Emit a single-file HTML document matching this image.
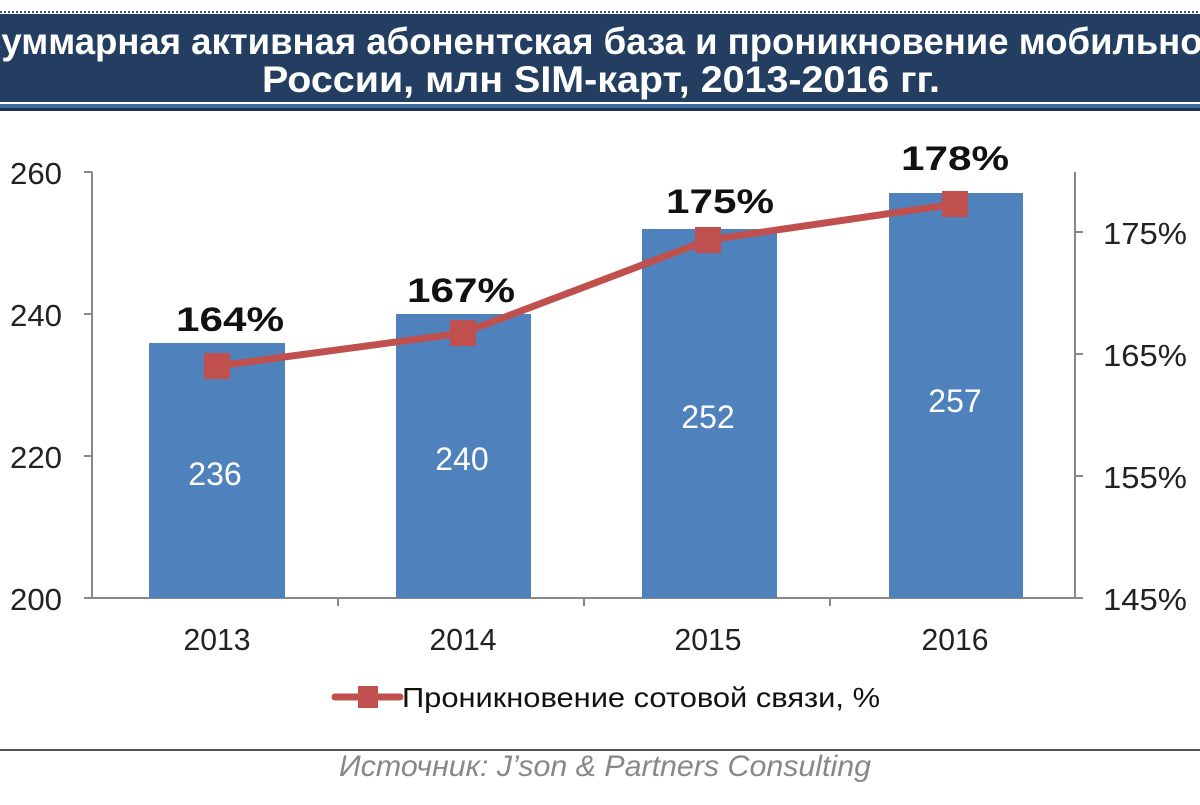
<!DOCTYPE html>
<html><head><meta charset="utf-8"><style>
body{margin:0;width:1200px;height:800px;background:#fff;overflow:hidden;font-family:"Liberation Sans","DejaVu Sans",sans-serif}
</style></head><body>
<svg width="1200" height="800" xmlns="http://www.w3.org/2000/svg" font-family="Liberation Sans, DejaVu Sans, sans-serif">
<line x1="0" y1="12" x2="1200" y2="12" stroke="#3a5a80" stroke-width="2" stroke-dasharray="2,2"/>
<rect x="0" y="14" width="1200" height="88" fill="#233e61"/>
<rect x="0" y="104" width="1200" height="4" fill="#3d6a9e"/>
<rect x="0" y="108" width="1200" height="3" fill="#1c3352"/>
<text x="600" y="54" fill="#fff" font-size="37" font-weight="bold" text-anchor="middle" textLength="1250" lengthAdjust="spacingAndGlyphs">Суммарная активная абонентская база и проникновение мобильной</text>
<text x="601" y="92" fill="#fff" font-size="37" font-weight="bold" text-anchor="middle" textLength="678" lengthAdjust="spacingAndGlyphs">России, млн SIM-карт, 2013-2016 гг.</text>
<g stroke="#888" stroke-width="2">
<line x1="92" y1="172" x2="92" y2="598"/>
<line x1="92" y1="598" x2="1075" y2="598"/>
<line x1="1075" y1="172" x2="1075" y2="598"/>
<line x1="84" y1="172" x2="92" y2="172"/><line x1="84" y1="314" x2="92" y2="314"/><line x1="84" y1="456" x2="92" y2="456"/><line x1="84" y1="598" x2="92" y2="598"/>
<line x1="1075" y1="232" x2="1083" y2="232"/><line x1="1075" y1="354" x2="1083" y2="354"/><line x1="1075" y1="476" x2="1083" y2="476"/><line x1="1075" y1="598" x2="1083" y2="598"/>
<line x1="338" y1="598" x2="338" y2="606"/><line x1="584" y1="598" x2="584" y2="606"/><line x1="830" y1="598" x2="830" y2="606"/>
</g>
<g fill="#222" font-size="31">
<text x="62" y="184" text-anchor="end" textLength="52" lengthAdjust="spacingAndGlyphs">260</text><text x="62" y="326" text-anchor="end" textLength="52" lengthAdjust="spacingAndGlyphs">240</text><text x="62" y="468" text-anchor="end" textLength="52" lengthAdjust="spacingAndGlyphs">220</text><text x="62" y="610" text-anchor="end" textLength="52" lengthAdjust="spacingAndGlyphs">200</text>
<text x="1103" y="244" textLength="84" lengthAdjust="spacingAndGlyphs">175%</text><text x="1103" y="366" textLength="84" lengthAdjust="spacingAndGlyphs">165%</text><text x="1103" y="488" textLength="84" lengthAdjust="spacingAndGlyphs">155%</text><text x="1103" y="610" textLength="84" lengthAdjust="spacingAndGlyphs">145%</text>
<text x="217" y="650" text-anchor="middle" textLength="67" lengthAdjust="spacingAndGlyphs">2013</text><text x="463" y="650" text-anchor="middle" textLength="67" lengthAdjust="spacingAndGlyphs">2014</text><text x="708" y="650" text-anchor="middle" textLength="67" lengthAdjust="spacingAndGlyphs">2015</text><text x="955" y="650" text-anchor="middle" textLength="67" lengthAdjust="spacingAndGlyphs">2016</text>
</g>
<g fill="#4f81bd">
<rect x="149" y="343" width="136" height="255"/><rect x="396" y="314" width="135" height="284"/><rect x="642" y="229" width="135" height="369"/><rect x="889" y="193" width="134" height="405"/>
</g>
<g fill="#fff" font-size="32" text-anchor="middle">
<text x="215" y="485">236</text><text x="462" y="470">240</text><text x="708" y="428">252</text><text x="955" y="412">257</text>
</g>
<polyline points="217,366 463,333 708,240 955,204" fill="none" stroke="#c0504d" stroke-width="7" stroke-linejoin="round"/>
<g fill="#c0504d">
<rect x="204" y="353" width="26" height="26"/><rect x="450" y="320" width="26" height="26"/><rect x="695" y="227" width="26" height="26"/><rect x="942" y="191" width="26" height="26"/>
</g>
<g fill="#111" font-size="34" font-weight="bold" text-anchor="middle">
<text x="230" y="331" textLength="108" lengthAdjust="spacingAndGlyphs">164%</text><text x="461" y="302" textLength="108" lengthAdjust="spacingAndGlyphs">167%</text><text x="720" y="213" textLength="108" lengthAdjust="spacingAndGlyphs">175%</text><text x="955" y="170" textLength="108" lengthAdjust="spacingAndGlyphs">178%</text>
</g>
<line x1="335" y1="697" x2="400" y2="697" stroke="#c0504d" stroke-width="7" stroke-linecap="round"/>
<rect x="358" y="686" width="20" height="22" fill="#c0504d"/>
<text x="402" y="707" font-size="28" fill="#111" textLength="478" lengthAdjust="spacingAndGlyphs">Проникновение сотовой связи,  %</text>
<line x1="0" y1="750" x2="1200" y2="750" stroke="#555" stroke-width="2"/>
<text x="605" y="776" font-size="30" font-style="italic" fill="#888" text-anchor="middle" textLength="532" lengthAdjust="spacingAndGlyphs">Источник: J’son &amp; Partners Consulting</text>
</svg>
</body></html>
